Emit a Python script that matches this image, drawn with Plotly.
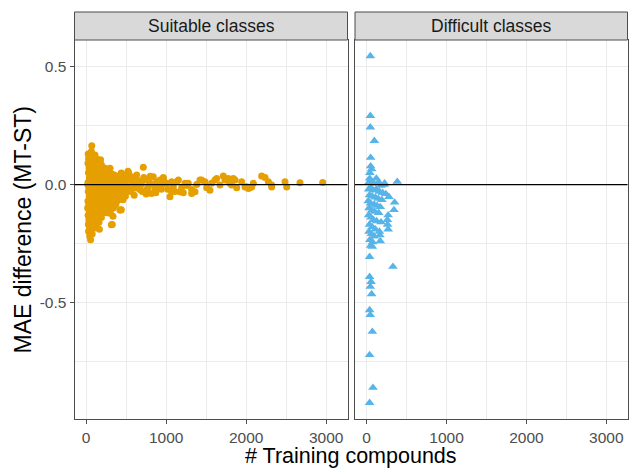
import plotly.graph_objects as go

# ---------------- data ----------------
panel_titles = ["Suitable classes", "Difficult classes"]

suit_x = [
    25, 30, 22, 35, 28, 40, 24, 32, 26, 38, 22, 30, 36, 24, 33, 27, 40, 30, 45, 55,
    70, 65, 80, 60, 75, 90, 62, 85, 70, 95, 66, 88, 72, 92, 64, 80, 70, 90, 62, 75,
    110, 105, 130, 120, 140, 115, 135, 108, 145, 118, 138, 105, 128, 112, 140, 120, 100, 135, 110, 165,
    160, 180, 170, 195, 155, 210, 175, 200, 160, 190, 215, 170, 200, 155, 185, 210, 165, 195, 175, 155,
    230, 250, 290, 270, 240, 300, 225, 260, 285, 235, 275, 250, 295, 230, 265, 245, 280, 225, 300, 260,
    314, 335, 326,
    320, 350, 380, 330, 370, 400, 340, 390, 310, 360, 410, 330, 380, 350, 400, 320, 370, 340, 422, 300,
    435, 443, 460, 500, 480, 520, 450, 490, 430, 470, 510, 440, 490, 460, 439, 520,
    297, 204, 527, 714, 293, 439, 522, 189, 631, 839, 964, 431,
    48, 52, 58, 44, 50, 46, 42, 56, 84, 98, 102, 78, 125, 148, 58, 68,
    150, 165, 180, 190, 205, 220, 235, 245, 255, 265, 275, 285, 305, 315, 325, 345,
    355, 365, 375, 385, 395, 405, 415, 150, 170, 200, 215, 230, 255, 270, 290, 310,
    200, 240, 150, 180, 130, 140, 160, 190, 215, 240,
    20, 18, 45, 50, 85, 40,
    548, 589, 631, 672, 735, 777, 818, 881, 922, 964, 1006, 1047, 1089, 1152, 1193, 1256,
    1318, 1381, 1443, 1506, 1568, 1631, 1672, 1735, 1777, 1818, 1860, 1881, 1943, 2006, 2047, 2089,
    560, 600, 650, 700, 760, 860, 900, 950,
    540, 570, 610, 620, 660, 690, 720, 750, 790, 800, 850, 870, 940, 980, 1020, 1110, 540, 580,
    1068, 1068, 1131, 1172, 1235, 1276, 1214, 1318, 1360, 1422, 1485, 1547, 1610, 1714, 1756, 1797,
    1839, 1985, 2027, 2068, 2193, 2235, 2277, 2318, 2318, 2485, 2506, 2672, 2956,
]
suit_y = [
    0.13, 0.11, 0.09, 0.07, 0.05, 0.03, 0.01, -0.01, -0.03, -0.05, -0.07, -0.09, -0.11, -0.13, -0.15, -0.17, -0.19, -0.20, -0.22, -0.235,
    0.165, 0.14, 0.12, 0.10, 0.08, 0.06, 0.04, 0.02, 0.00, -0.02, -0.04, -0.06, -0.08, -0.10, -0.12, -0.14, -0.16, -0.18, -0.19, -0.21,
    0.125, 0.10, 0.11, 0.08, 0.07, 0.05, 0.03, 0.01, -0.01, -0.03, -0.05, -0.07, -0.09, -0.11, -0.12, -0.14, -0.16, -0.165, -0.185, -0.19,
    0.095, 0.085, 0.065, 0.06, 0.045, 0.04, 0.025, 0.015, 0.00, -0.015, -0.02, -0.035, -0.05, -0.06, -0.075, -0.085, -0.10, -0.11, -0.125, -0.14,
    0.07, 0.055, 0.065, 0.04, 0.03, 0.03, 0.01, 0.005, -0.005, -0.02, -0.03, -0.045, -0.05, -0.065, -0.075, -0.09, -0.095, -0.11, -0.11, -0.12,
    -0.171, -0.135, -0.17,
    0.045, 0.04, 0.035, 0.02, 0.015, 0.02, 0.00, -0.005, -0.015, -0.02, -0.025, -0.04, -0.045, -0.06, -0.065, -0.08, -0.085, -0.10, -0.108, -0.122,
    0.047, 0.045, 0.03, 0.035, 0.015, 0.02, 0.005, -0.005, -0.02, -0.025, -0.03, -0.045, -0.05, -0.065, -0.107, -0.01,
    0.069, 0.057, 0.052, 0.073, 0.067, 0.049, 0.056, 0.084, 0.04, 0.033, 0.03, -0.108,
    0.12, 0.06, -0.02, -0.10, -0.16, 0.02, -0.05, -0.13, 0.03, -0.08, 0.02, -0.17, 0.09, 0.02, -0.205, 0.105,
    0.02, 0.05, -0.06, 0.03, -0.03, 0.05, -0.05, 0.00, 0.02, -0.06, 0.015, -0.04, 0.00, -0.05, 0.01, -0.03,
    0.025, -0.05, 0.00, -0.07, 0.01, -0.04, 0.03, -0.09, -0.08, -0.09, -0.06, -0.10, -0.10, -0.085, -0.07, -0.09,
    0.07, 0.065, 0.075, 0.105, 0.09, -0.15, -0.16, -0.14, -0.12, -0.11,
    0.00, -0.10, 0.10, -0.19, 0.10, -0.12,
    0.019, -0.002, 0.005, -0.021, 0.019, -0.009, -0.038, 0.012, 0.019, 0.026, 0.005, -0.052, -0.009, 0.019, -0.014, -0.004,
    -0.021, 0.000, 0.019, -0.014, 0.005, 0.026, -0.002, 0.019, 0.026, -0.002, 0.019, -0.014, 0.012, -0.009, -0.014, 0.005,
    -0.03, -0.045, -0.01, -0.03, -0.02, -0.02, -0.01, 0.00,
    -0.02, 0.01, 0.02, -0.015, 0.015, 0.00, 0.03, -0.04, 0.01, 0.035, 0.00, -0.035, -0.02, 0.01, -0.02, -0.03, 0.04, 0.03,
    0.012, -0.031, 0.012, -0.031, 0.005, 0.005, -0.035, -0.038, -0.031, 0.019, 0.012, -0.024, 0.019, 0.036, 0.019, 0.005,
    0.026, -0.010, -0.017, -0.010, 0.036, 0.030, 0.012, -0.010, -0.002, 0.012, -0.010, 0.008, 0.009,
]

diff_x = [
    46, 46, 46, 96, 50, 50, 62, 40, 37, 121, 225, 383, 217,
    30, 60, 90, 150, 180,
    25, 55, 85, 120, 160, 200, 240,
    35, 70, 110, 145, 190, 279,
    20, 50, 95, 130, 170, 350, 342,
    30, 65, 100, 150, 269, 260,
    25, 55, 85, 125, 180, 269, 262,
    35, 70, 110, 160,
    30, 60, 95, 166, 170,
    40, 75, 50, 71,
    37, 329, 37, 55, 45, 62,
    37, 45, 71, 37, 79, 37,
]
diff_y = [
    0.546, 0.292, 0.243, 0.186, 0.114, 0.078, 0.065, 0.05, 0.026, 0.026, 0.005, 0.012, 0.0,
    0.01, 0.015, 0.005, 0.01, -0.005,
    -0.02, -0.015, -0.025, -0.02, -0.03, -0.035, -0.04,
    -0.045, -0.05, -0.055, -0.06, -0.065, -0.052,
    -0.07, -0.08, -0.085, -0.09, -0.095, -0.076, -0.108,
    -0.10, -0.11, -0.115, -0.12, -0.13, -0.15,
    -0.13, -0.14, -0.15, -0.155, -0.16, -0.19, -0.17,
    -0.17, -0.18, -0.19, -0.20,
    -0.20, -0.21, -0.22, -0.215, -0.24,
    -0.235, -0.245, -0.26, -0.264,
    -0.307, -0.349, -0.392, -0.413, -0.434, -0.465,
    -0.533, -0.554, -0.625, -0.724, -0.863, -0.927,
]

x_ticks = [0, 1000, 2000, 3000]
x_tick_text = ["0", "1000", "2000", "3000"]
y_ticks = [0.5, 0.0, -0.5]
y_tick_text = ["0.5", "0.0", "-0.5"]

x_title = "# Training compounds"
y_title = "MAE difference (MT-ST)"

# ---------------- style ----------------
W, H = 629, 469
FONT = "Liberation Sans, Arial, Helvetica, sans-serif"
ORANGE = "#E69F00"
BLUE = "#56B4E9"
BORDER = "#4D4D4D"
GRID = "#EBEBEB"

px_l1, px_r1 = 74.5, 347.5
px_l2, px_r2 = 355.0, 627.5
py_top, py_bot = 40.0, 419.0
strip_top = 12.0

def fx(p):
    return p / W

def fy(p):
    return 1 - p / H

xdom1 = [fx(px_l1), fx(px_r1)]
xdom2 = [fx(px_l2), fx(px_r2)]
ydom = [fy(py_bot), fy(py_top)]

x_range = [-146, 3266]
y_range = [-0.996, 0.614]

fig = go.Figure()
fig.add_trace(go.Scatter(
    x=suit_x, y=suit_y, mode="markers", xaxis="x", yaxis="y",
    marker=dict(color=ORANGE, size=7, symbol="circle", line=dict(width=0)),
    showlegend=False, hoverinfo="skip"))
fig.add_trace(go.Scatter(
    x=diff_x, y=diff_y, mode="markers", xaxis="x2", yaxis="y2",
    marker=dict(color=BLUE, size=8.5, symbol="triangle-up", line=dict(width=0)),
    showlegend=False, hoverinfo="skip"))

axis_common = dict(
    showline=True, mirror=True, linecolor=BORDER, linewidth=1,
    showgrid=True, gridcolor=GRID, gridwidth=1, zeroline=False,
    ticks="outside", ticklen=4, tickcolor=BORDER, tickwidth=1,
    tickfont=dict(family=FONT, size=15.5, color="#4D4D4D"),
)

fig.update_layout(
    width=W, height=H,
    margin=dict(l=0, r=0, t=0, b=0),
    paper_bgcolor="white", plot_bgcolor="white",
    font=dict(family=FONT),
    xaxis=dict(domain=xdom1, range=x_range, anchor="y",
               tickvals=x_ticks, ticktext=x_tick_text,
               minor=dict(dtick=500, tick0=0, showgrid=True, gridcolor=GRID, gridwidth=0.6, ticks=""),
               **axis_common),
    xaxis2=dict(domain=xdom2, range=x_range, anchor="y2",
                tickvals=x_ticks, ticktext=x_tick_text,
                minor=dict(dtick=500, tick0=0, showgrid=True, gridcolor=GRID, gridwidth=0.6, ticks=""),
                **axis_common),
    yaxis=dict(domain=ydom, range=y_range, anchor="x",
               tickvals=y_ticks, ticktext=y_tick_text,
               minor=dict(dtick=0.25, tick0=0.25, showgrid=True, gridcolor=GRID, gridwidth=0.6, ticks=""),
               **axis_common),
    yaxis2=dict(domain=ydom, range=y_range, anchor="x2", showticklabels=False,
                tickvals=y_ticks,
                minor=dict(dtick=0.25, tick0=0.25, showgrid=True, gridcolor=GRID, gridwidth=0.6, ticks=""),
                **{k: v for k, v in axis_common.items() if k not in ("ticks", "ticklen")},
                ticks=""),
)

# zero reference lines
for xr, yr in (("x domain", "y"), ("x2 domain", "y2")):
    fig.add_shape(type="line", xref=xr, yref=yr, x0=0, x1=1, y0=0, y1=0,
                  line=dict(color="black", width=1.3), layer="above")

# facet strips
for dom, title in zip((xdom1, xdom2), panel_titles):
    fig.add_shape(type="rect", xref="paper", yref="paper",
                  x0=dom[0], x1=dom[1], y0=fy(py_top), y1=fy(strip_top),
                  fillcolor="#D9D9D9", line=dict(color=BORDER, width=1), layer="above")
    fig.add_annotation(xref="paper", yref="paper", x=(dom[0] + dom[1]) / 2,
                       y=fy((py_top + strip_top) / 2), text=title, showarrow=False,
                       font=dict(family=FONT, size=17.5, color="#1A1A1A"),
                       xanchor="center", yanchor="middle")

# axis titles
fig.add_annotation(xref="paper", yref="paper", x=fx((px_l1 + px_r2) / 2), y=0,
                   text=x_title, showarrow=False, xanchor="center", yanchor="bottom",
                   borderpad=0, font=dict(family=FONT, size=21.5, color="black"))
fig.add_annotation(xref="paper", yref="paper", x=fx(22), y=fy((py_top + py_bot) / 2),
                   text=y_title, showarrow=False, xanchor="center", yanchor="middle",
                   textangle=-90, font=dict(family=FONT, size=23, color="black"))

fig.write_html("out.html")
